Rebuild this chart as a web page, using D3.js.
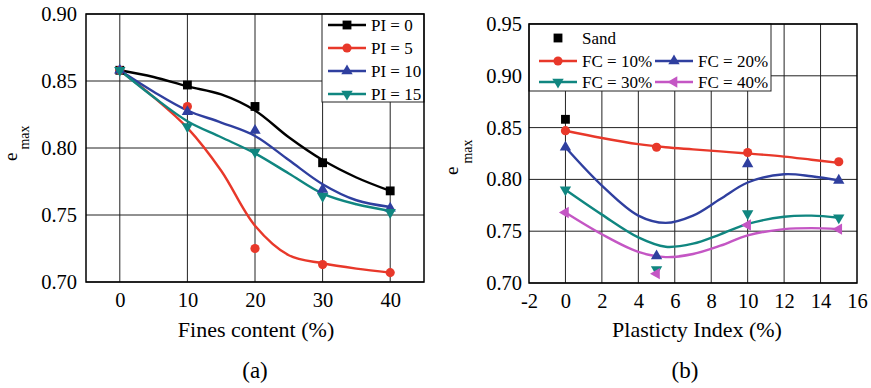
<!DOCTYPE html>
<html>
<head>
<meta charset="utf-8">
<script src="https://cdn.jsdelivr.net/npm/d3@7"></script>
<style>
body { margin: 0; background: #fff; }
text { font-family: "Liberation Serif", "Times New Roman", serif; fill: #000; }
</style>
</head>
<body>
<svg id="fig" width="871" height="388"></svg>
<script>
// ---- panel (a): e_max vs fines content ----
var fcValues = [0, 10, 20, 30, 40];
var piNames = ['PI = 0', 'PI = 5', 'PI = 10', 'PI = 15'];
var emaxPI0 = [0.858, 0.847, 0.831, 0.789, 0.768];
var emaxPI5 = [0.858, 0.831, 0.725, 0.713, 0.707];
var emaxPI10 = [0.858, 0.827, 0.813, 0.769, 0.755];
var emaxPI15 = [0.858, 0.816, 0.797, 0.764, 0.752];
// smoothed lines
var fcCurveX = [0, 5, 10, 15, 20, 25, 30, 35, 40];
var curvePI0 = [0.858, 0.853, 0.846, 0.840, 0.828, 0.808, 0.791, 0.778, 0.768];
var curvePI5 = [0.858, 0.838, 0.815, 0.783, 0.742, 0.720, 0.714, 0.710, 0.707];
var curvePI10 = [0.858, 0.842, 0.828, 0.819, 0.809, 0.791, 0.773, 0.761, 0.756];
var curvePI15 = [0.858, 0.838, 0.820, 0.808, 0.796, 0.781, 0.766, 0.758, 0.753];
var xTicksA = [0, 10, 20, 30, 40];
var yTicksA = [0.70, 0.75, 0.80, 0.85, 0.90];

// ---- panel (b): e_max vs plasticity index ----
var piValues = [0, 5, 10, 15];
var sandPI = [0];
var sandEmax = [0.858];
var fcNames = ['FC = 10%', 'FC = 20%', 'FC = 30%', 'FC = 40%'];
var emaxFC10 = [0.847, 0.831, 0.826, 0.817];
var emaxFC20 = [0.831, 0.726, 0.815, 0.799];
var emaxFC30 = [0.790, 0.713, 0.767, 0.763];
var emaxFC40 = [0.768, 0.709, 0.756, 0.752];
var piCurveX = [0, 2, 4, 5.5, 7, 8.5, 10, 12, 13.5, 15];
var curveFC10 = [0.847, 0.840, 0.834, 0.831, 0.829, 0.827, 0.825, 0.822, 0.819, 0.816];
var curveFC20 = [0.831, 0.794, 0.765, 0.758, 0.765, 0.781, 0.797, 0.805, 0.803, 0.799];
var curveFC30 = [0.790, 0.766, 0.744, 0.735, 0.738, 0.747, 0.757, 0.764, 0.765, 0.763];
var curveFC40 = [0.768, 0.747, 0.730, 0.725, 0.728, 0.736, 0.746, 0.752, 0.753, 0.752];
var xTicksB = [-2, 0, 2, 4, 6, 8, 10, 12, 14, 16];
var yTicksB = [0.70, 0.75, 0.80, 0.85, 0.90, 0.95];

var RED = '#e8382a', BLUE = '#2f3f9f', TEAL = '#108680', MAGENTA = '#c456c4';
var tickFont = 20.5, titleFont = 22, legendFont = 17;

var svg = d3.select('#fig');

var marker = function (type) {
	var shapes = {
		square: [d3.symbolSquare, 78, 0],
		circle: [d3.symbolCircle, 66, 0],
		up: [d3.symbolTriangle, 56, 0],
		down: [d3.symbolTriangle, 56, 180],
		left: [d3.symbolTriangle, 56, -90]
	};
	return shapes[type];
};

var drawMarker = function (g, cx, cy, type, color) {
	var m = marker(type);
	g.append('path')
		.attr('d', d3.symbol().type(m[0]).size(m[1])())
		.attr('fill', color)
		.attr('transform', 'translate(' + cx + ',' + cy + ') rotate(' + m[2] + ')');
};

var drawPanel = function (p) {
	var g = svg.append('g');
	var x = d3.scaleLinear().domain(p.xDomain).range([p.left, p.right]);
	var y = d3.scaleLinear().domain(p.yDomain).range([p.bottom, p.top]);

	// grid
	g.selectAll('.vgrid').data(p.xGrid).enter().append('line')
		.attr('x1', function (d) { return x(d); }).attr('x2', function (d) { return x(d); })
		.attr('y1', p.top).attr('y2', p.bottom)
		.attr('stroke', '#222').attr('stroke-width', 1);
	g.selectAll('.hgrid').data(p.yTicks).enter().append('line')
		.attr('x1', p.left).attr('x2', p.right)
		.attr('y1', function (d) { return y(d); }).attr('y2', function (d) { return y(d); })
		.attr('stroke', '#222').attr('stroke-width', 1);

	// axes
	var yAxisEl = g.append('g')
		.attr('transform', 'translate(' + p.left + ',0)')
		.call(d3.axisLeft(y).tickValues(p.yTicks).tickSize(0).tickPadding(p.yPad).tickFormat(d3.format('.2f')));
	var xAxisEl = g.append('g')
		.attr('transform', 'translate(0,' + p.bottom + ')')
		.call(d3.axisBottom(x).tickValues(p.xTicks).tickSize(0).tickPadding(10).tickFormat(function (d) { return String(d); }));
	[yAxisEl, xAxisEl].forEach(function (a) {
		a.select('.domain').remove();
		a.attr('font-family', null).attr('font-size', null);
		a.selectAll('text').style('font-size', tickFont + 'px').attr('fill', '#000');
	});

	// axis titles
	g.append('text')
		.attr('x', (p.left + p.right) / 2 + p.titleShift).attr('y', 337)
		.attr('text-anchor', 'middle').style('font-size', titleFont + 'px')
		.text(p.xTitle);
	g.append('text')
		.attr('x', (p.left + p.right) / 2 + p.labelShift).attr('y', 378)
		.attr('text-anchor', 'middle').style('font-size', '23px')
		.text(p.label);
	var yt = g.append('text')
		.attr('transform', 'translate(' + p.yTitleX + ',' + p.yTitleY + ') rotate(-90)')
		.style('font-size', '19px');
	yt.append('tspan').text('e');
	yt.append('tspan').attr('dx', 3).attr('dy', p.subShift).style('font-size', '14px').text('max');

	// curves and markers
	var line = d3.line()
		.x(function (d) { return x(d[0]); })
		.y(function (d) { return y(d[1]); })
		.curve(d3.curveCatmullRom.alpha(0.5));
	p.series.forEach(function (s) {
		if (s.curve) {
			g.append('path')
				.datum(d3.zip(s.curveX, s.curve))
				.attr('d', line)
				.attr('fill', 'none').attr('stroke', s.color).attr('stroke-width', 2.4);
		}
	});
	p.series.forEach(function (s) {
		d3.zip(s.x, s.values).forEach(function (d) {
			drawMarker(g, x(d[0]), y(d[1]), s.shape, s.color);
		});
	});

	// legend
	var lg = g.append('g');
	lg.append('rect')
		.attr('x', p.legend.x).attr('y', p.legend.y)
		.attr('width', p.legend.w).attr('height', p.legend.h)
		.attr('fill', '#fff').attr('stroke', '#222').attr('stroke-width', 1);
	p.series.forEach(function (s, i) {
		var pos = p.legend.place(i);
		if (s.curve) {
			lg.append('line')
				.attr('x1', pos[0] - 19).attr('x2', pos[0] + 19)
				.attr('y1', pos[1]).attr('y2', pos[1])
				.attr('stroke', s.color).attr('stroke-width', 2.4);
		}
		drawMarker(lg, pos[0], pos[1], s.shape, s.color);
		lg.append('text')
			.attr('x', pos[0] + 24).attr('y', pos[1] + 6)
			.style('font-size', legendFont + 'px')
			.text(s.name);
	});

	// frame
	g.append('rect')
		.attr('x', p.left).attr('y', p.top)
		.attr('width', p.right - p.left).attr('height', p.bottom - p.top)
		.attr('fill', 'none').attr('stroke', '#000').attr('stroke-width', 1.5);
};

drawPanel({
	left: 86, right: 424, top: 14, bottom: 282,
	xDomain: [-5, 45], yDomain: [0.70, 0.90],
	xTicks: xTicksA, yTicks: yTicksA, xGrid: xTicksA, yPad: 9,
	xTitle: 'Fines content (%)', titleShift: 1, label: '(a)', labelShift: 0,
	yTitleX: 17, yTitleY: 161, subShift: 12,
	series: [
		{ name: piNames[0], x: fcValues, values: emaxPI0, curveX: fcCurveX, curve: curvePI0, color: '#000', shape: 'square' },
		{ name: piNames[1], x: fcValues, values: emaxPI5, curveX: fcCurveX, curve: curvePI5, color: RED, shape: 'circle' },
		{ name: piNames[2], x: fcValues, values: emaxPI10, curveX: fcCurveX, curve: curvePI10, color: BLUE, shape: 'up' },
		{ name: piNames[3], x: fcValues, values: emaxPI15, curveX: fcCurveX, curve: curvePI15, color: TEAL, shape: 'down' }
	],
	legend: {
		x: 322, y: 14, w: 102, h: 88,
		place: function (i) { return [347, 25 + i * 23]; }
	}
});

drawPanel({
	left: 529, right: 857, top: 24, bottom: 283,
	xDomain: [-2, 16], yDomain: [0.70, 0.95],
	xTicks: xTicksB, yTicks: yTicksB, xGrid: xTicksB.slice(1, -1), yPad: 7,
	xTitle: 'Plasticty Index (%)', titleShift: 4, label: '(b)', labelShift: -8,
	yTitleX: 458, yTitleY: 175, subShift: 14,
	series: [
		{ name: 'Sand', x: sandPI, values: sandEmax, color: '#000', shape: 'square' },
		{ name: fcNames[0], x: piValues, values: emaxFC10, curveX: piCurveX, curve: curveFC10, color: RED, shape: 'circle' },
		{ name: fcNames[1], x: piValues, values: emaxFC20, curveX: piCurveX, curve: curveFC20, color: BLUE, shape: 'up' },
		{ name: fcNames[2], x: piValues, values: emaxFC30, curveX: piCurveX, curve: curveFC30, color: TEAL, shape: 'down' },
		{ name: fcNames[3], x: piValues, values: emaxFC40, curveX: piCurveX, curve: curveFC40, color: MAGENTA, shape: 'left' }
	],
	legend: {
		x: 529, y: 24, w: 242, h: 67,
		place: function (i) {
			if (i === 0) return [558, 38];
			return [558 + ((i - 1) % 2) * 116, 61 + Math.floor((i - 1) / 2) * 21];
		}
	}
});
</script>
</body>
</html>
